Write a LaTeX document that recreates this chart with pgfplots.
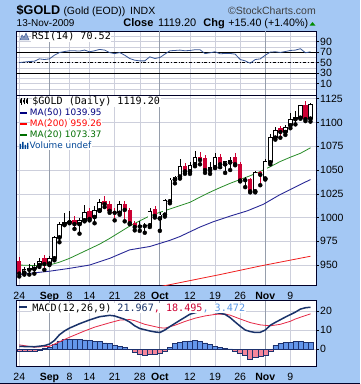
\documentclass[border=0pt]{standalone}
\usepackage{fontspec}
\setmainfont{Liberation Sans}
\newfontfamily\monof{DejaVu Sans Mono}
\newfontfamily\dvs{DejaVu Sans}
\usepackage{pgfplots}
\pgfplotsset{compat=1.18}
\usepackage{pgfplotstable}

\definecolor{bgblue}{RGB}{164,200,244}
\definecolor{frame}{RGB}{0,0,40}
\definecolor{gridc}{RGB}{205,207,220}
\definecolor{gridm}{RGB}{150,158,172}
\definecolor{candred}{RGB}{204,0,51}
\definecolor{ma50}{RGB}{40,40,150}
\definecolor{ma200}{RGB}{240,30,30}
\definecolor{ma20}{RGB}{40,140,40}
\definecolor{rsic}{RGB}{55,85,150}
\definecolor{macdc}{RGB}{25,50,105}
\definecolor{sigc}{RGB}{230,40,70}
\definecolor{histpos}{RGB}{100,150,235}
\definecolor{histneg}{RGB}{245,135,155}
\definecolor{histline}{RGB}{30,50,110}
\definecolor{lblue}{RGB}{90,150,230}
\definecolor{t50}{RGB}{0,0,128}
\definecolor{t200}{RGB}{255,0,0}
\definecolor{t20}{RGB}{0,110,0}
\definecolor{tvol}{RGB}{0,70,150}

% hollow (up) candles: index open high low close
\pgfplotstableread{
i o h l c
1 942 948 940 946
3 946 952 941 949.5
4 950 957 948 954.5
6 951.5 959 950 957
7 957 981 955 979
8 979 995 974 993
9 993 1005 992 995.5
10 995 1007 994 996.5
12 993 1000 983 997
13 997 1013 996 1006
15 1000.5 1012 994 1007.5
16 1007.5 1020 1007 1016
20 1005 1017 1003 1014
26 991.7 1010 990 1006.7
28 999 1006 986 1003
29 1003 1020 1001 1018
30 1017 1042 1015 1040
31 1040 1044 1036 1043
32 1043 1062 1041 1054
34 1048.5 1058 1046 1055
35 1056 1070 1054 1063.5
38 1050 1058 1046 1053
39 1053 1068 1052 1063.5
41 1056 1060 1047 1059
42 1058 1064 1050 1060.5
47 1027.5 1049 1026.5 1048
49 1041 1062 1040 1059.5
50 1058 1088 1056 1085
51 1084 1095 1082 1092
53 1090 1097 1087 1095
54 1097 1110 1094 1104
55 1103.5 1112 1098 1105.5
56 1105 1118.5 1104 1118
58 1104 1120 1101 1119.2
}\upc

% small black (filled) candles
\pgfplotstableread{
i o h l c
2 945 951 940 947
24 990.5 996.5 986 991.7
25 991 994 984 992
45 1039.3 1043 1032 1040.5
}\blkc

% red (down) candles
\pgfplotstableread{
i o h l c
0 954 958 938 941
5 957 961 945 951
11 997 1001.5 988 993
14 1006.5 1010 997 998.5
17 1017.5 1023 1011 1014
18 1014 1017 1005 1007
19 1005.8 1010 997 1005
21 1014 1017 996 1008
22 1008 1010 993 994
23 994 996 986.5 990
27 1009 1012 1000 1001.7
33 1054 1057 1046 1048.5
36 1064 1069 1056 1060.5
37 1063 1066 1047 1050
40 1064 1067 1053 1056
43 1064 1068 1055 1056
44 1056 1058 1038 1039
46 1040.5 1042 1026.5 1027.5
48 1048 1049 1034 1045
52 1094 1096 1084 1090
57 1118 1123 1101.5 1103.5
}\dnc

\pgfplotstableread{
i m
0 950
3 949.5
6 950
8 953
10 957
12 962
14 967
16 972
18 978
20 984.5
22 991
24 996.5
26 1001.7
28 1005.5
30 1009
32 1012.5
34 1016
36 1021.5
38 1026.7
40 1031.5
42 1036
44 1040
46 1044
48 1048.5
50 1053.5
52 1059
54 1063.5
56 1067.6
58 1073.37
}\maxx

\pgfplotstableread{
i m
0 940
6 943.5
10 946.5
14 950
18 957
22 966
26 969.5
30 976
32 980
36 990
38.6 995.5
42 1001.5
45.4 1007
48.6 1013.9
51.9 1024
55.3 1033
58 1039.95
}\mal

\pgfplotstableread{
i m
24 923
32 931.5
40 940
48 949
58 959.26
}\mac

\pgfplotstableread{
i r
0 50
1 51
2 52
3 52.5
4 57
5 55.8
6 57
7 64
8 69
9 71
10 72.4
11 72.4
12 71.8
13 73.7
14 70.5
15 72.4
16 75
17 73.7
18 69
19 67
20 69
21 64
22 57.7
23 54.5
24 53.2
25 53.2
26 61
27 57.7
28 59.6
29 66
30 72.4
31 73
32 73.7
33 72.4
34 73
35 74.4
36 74.4
37 67
38 68.6
39 70.5
40 66.7
41 67.3
42 67.3
43 66
44 55.8
45 53.2
46 48.7
47 55.8
48 57
49 64
50 69.9
51 70.5
52 69.2
53 71
54 73
55 73.7
56 76.3
57 68.6
58 70.52
}\rsi

\pgfplotstableread{
i v
0 1.4
3 1.2
5 1.8
6 2.6
7 4.5
8 7.5
9 9.5
10 11.0
12 13.3
14 15.3
16 17.0
18 17.7
19 17.4
21 15.6
22 14.2
23 12.2
24 10.8
26 9.5
27 9.0
28 8.7
29 10.0
30 11.8
32 15.1
34 18.3
36 19.8
38 19.6
40 18.8
41 18.2
42 16.5
43 14.2
44 12.0
45 10.0
46 9.2
47 8.7
48 8.8
49 10.0
50 12.5
51 14.0
53 16.8
55 19.4
56 21.0
57 21.7
58 21.967
}\macd

\pgfplotstableread{
i v
0 2.2
3 1.0
6 1.4
8 3.8
10 6.2
13 9.5
15 11.5
18 13.8
20 15.2
22 15.5
23 14.9
25 13.0
28 11.2
29 11.0
31 12.5
33 14.5
35 16.2
37 17.4
39 18.2
41 18.4
42 17.8
44 15.8
46 13.9
48 12.7
50 12.2
52 13.0
54 14.6
55 15.8
57 17.6
58 18.495
}\sig

\pgfplotstableread{
i h
5 0.4
6 0.8
7 2.3
8 4.3
9 5.2
10 5.2
11 5.1
12 5.2
13 4.8
14 4.4
15 4.2
16 4.0
17 3.3
18 3.0
19 2.0
20 1.5
21 0.9
30 1.0
31 2.8
32 3.7
33 4.2
34 4.3
35 4.6
36 4.0
37 3.2
38 2.3
39 1.4
40 1.0
41 0.5
42 0.15
51 1.9
52 2.9
53 3.4
54 3.7
55 3.9
56 4.0
57 3.7
58 3.472
}\hpos

\pgfplotstableread{
i h
0 -1.2
1 -1.2
2 -1.2
3 -1.0
4 -0.5
22 -0.3
23 -1.6
24 -2.6
25 -3.0
26 -2.8
27 -2.7
28 -2.1
29 -1.4
43 -0.9
44 -2.2
45 -3.5
46 -5.2
47 -4.3
48 -4.0
49 -3.2
50 -1.0
}\hneg

\pgfplotsset{
  panel/.style={
    scale only axis, width=300pt,
    xmin=-0.65, xmax=59.1,
    axis background/.style={fill=white},
    axis line style={draw=frame, line width=0.8pt},
    grid=major, grid style={draw=gridc, line width=0.5pt},
    xtick={0,10,14,19,24,34,39,44,54},
    extra x ticks={6,28,49},
    extra x tick style={grid=major, grid style={draw=gridm, line width=0.7pt}},
    xtick style={draw=none},
    ytick pos=right, yticklabel pos=right,
    tick align=outside, major tick length=3pt,
    ytick style={draw=black, line width=0.5pt},
    tick label style={font=\fontsize{10.5}{12}\selectfont},
    /pgf/number format/assume math mode=true,
    /pgf/number format/1000 sep={},
    yticklabel style={anchor=west, inner sep=0pt, xshift=1pt},
    xticklabel style={anchor=base, inner sep=0pt, yshift=-11.7pt},
    no markers,
  },
  seg/.style 2 args={only marks, mark=none, forget plot,
    error bars/.cd, y dir=plus, y explicit, error mark=none,
    error bar style={draw=#1, line width=#2, line cap=butt}},
}

\begin{document}
\begin{tikzpicture}
\fill[bgblue] (0pt,0pt) rectangle (360pt,384pt);

% ---------- RSI panel ----------
\begin{axis}[panel, anchor=south west, at={(16pt,288.3pt)}, height=64.7pt,
  ymin=-13, ymax=110, ytick={10,30,50,70,90},
  minor ytick={0,20,40,60,80,100}, yminorgrids,
  minor grid style={draw=gridc, line width=0.5pt}, minor tick length=0pt,
  xticklabels={}, extra x tick labels={}]
\addplot[black, line width=0.7pt] coordinates {(-1,70) (60,70)};
\addplot[black, line width=0.7pt] coordinates {(-1,30) (60,30)};
\addplot[black, line width=0.6pt, dash dot] coordinates {(-1,50) (60,50)};
\addplot[rsic, line width=0.8pt] table[x=i, y=r] {\rsi};
\end{axis}

% ---------- Price panel ----------
\begin{axis}[panel, anchor=south west, at={(16pt,99pt)}, height=189.3pt,
  ymin=929, ymax=1128.2,
  ytick={950,975,1000,1025,1050,1075,1100,1125},
  minor y tick num=4, minor tick length=1.5pt,
  xticklabels={24,8,14,21,28,12,19,26,9},
  extra x tick labels={\textbf{Sep},\textbf{Oct},\textbf{Nov}}]
\addplot[ma200, line width=0.8pt] table[x=i, y=m] {\mac};
\addplot[ma50, line width=0.9pt] table[x=i, y=m] {\mal};
\addplot[ma20, line width=0.8pt] table[x=i, y=m] {\maxx};
% wicks
\addplot[seg={black}{0.6pt}] table[x=i, y=l, y error expr=\thisrow{h}-\thisrow{l}] {\upc};
\addplot[seg={black}{0.6pt}] table[x=i, y=l, y error expr=\thisrow{h}-\thisrow{l}] {\blkc};
\addplot[seg={candred}{0.6pt}] table[x=i, y=l, y error expr=\thisrow{h}-\thisrow{l}] {\dnc};
% bodies
\addplot[seg={black}{4.4pt}] table[x=i, y=o, y error expr=\thisrow{c}-\thisrow{o}] {\upc};
\addplot[only marks, mark=none, forget plot, error bars/.cd, y dir=plus, y explicit, error mark=none,
  error bar style={draw=white, line width=2.8pt, line cap=butt, shorten <=0.8pt, shorten >=0.8pt}]
  table[x=i, y=o, y error expr=\thisrow{c}-\thisrow{o}] {\upc};
\addplot[seg={black}{4.4pt}] table[x=i, y=o, y error expr=\thisrow{c}-\thisrow{o}] {\blkc};
\addplot[seg={candred}{4.4pt}] table[x=i, y=c, y error expr=\thisrow{o}-\thisrow{c}] {\dnc};
\end{axis}

% ---------- MACD panel ----------
\begin{axis}[panel, anchor=south west, at={(16pt,18pt)}, height=65.3pt,
  ymin=-8.9, ymax=25.4, ytick={0,10,20},
  xticklabels={24,8,14,21,28,12,19,26,9},
  extra x tick labels={\textbf{Sep},\textbf{Oct},\textbf{Nov}}]
\addplot[ybar, bar width=1, bar shift=0pt, fill=histpos, draw=histline, line width=0.5pt] table[x=i, y=h] {\hpos};
\addplot[ybar, bar width=1, bar shift=0pt, fill=histneg, draw=histline, line width=0.5pt] table[x=i, y=h] {\hneg};
\addplot[sigc, line width=0.8pt] table[x=i, y=v] {\sig};
\addplot[macdc, line width=1.5pt] table[x=i, y=v] {\macd};
\end{axis}

\begin{scope}[x=1pt,y=1pt]
% ---------- header ----------
\node[anchor=base west, inner sep=0] at (16.5,369) {\fontsize{12.6}{14}\selectfont\bfseries \$GOLD};
\node[anchor=base west, inner sep=0] at (63.3,369) {\fontsize{10.5}{12}\selectfont (Gold (EOD))};
\node[anchor=base west, inner sep=0] at (130,369) {\fontsize{10.5}{12}\selectfont INDX};
\node[anchor=base east, inner sep=0, text=black!75] at (316,369.5) {\fontsize{10.5}{12}\selectfont ©StockCharts.com};
\node[anchor=base west, inner sep=0] at (16.5,357.3) {\fontsize{10}{12}\selectfont 13-Nov-2009};
\node[anchor=base west, inner sep=0] at (123.3,357.3) {\fontsize{11}{12}\selectfont\bfseries Close};
\node[anchor=base west, inner sep=0] at (158,357.3) {\fontsize{11}{12}\selectfont 1119.20};
\node[anchor=base west, inner sep=0] at (203.3,357.3) {\fontsize{11}{12}\selectfont\bfseries Chg};
\node[anchor=base west, inner sep=0] at (228.3,357.3) {\fontsize{10.7}{12}\selectfont +15.40 (+1.40\%)};
\fill[green!55!black] (309.5,358.3) -- (315.5,358.3) -- (312.5,362) -- cycle;

% ---------- RSI legend ----------
\fill[rsic!60, draw=rsic, line width=0.4pt] (20,344) -- (22,349) -- (24,346.5) -- (26,351) -- (29,344) -- cycle;
\node[anchor=base west, inner sep=0.6pt, fill=white] at (31,344) {\monof\fontsize{10.1}{12}\selectfont RSI(14) 70.52};

% ---------- price legend ----------
\node[anchor=base west, inner sep=0.6pt, fill=white] at (31.5,279.5) {\monof\fontsize{10.1}{12}\selectfont \$GOLD (Daily) 1119.20};
\draw[black, line width=0.5pt] (21,279) -- (21,286) (24,279.5) -- (24,285.5) (27,280) -- (27,286);
\fill[black] (20.2,281) rectangle (21.8,284.5) (23.2,281.5) rectangle (24.8,284) (26.2,281) rectangle (27.8,284.5);
\fill[t50] (20,270.3) rectangle (27,272.3);
\node[anchor=base west, inner sep=0.5pt, fill=white] at (29.3,268) {\dvs\fontsize{8.9}{10}\selectfont\textcolor{t50}{MA(50) 1039.95}};
\fill[t200] (20,259.3) rectangle (27,261.3);
\node[anchor=base west, inner sep=0.5pt, fill=white] at (29.3,257) {\dvs\fontsize{8.9}{10}\selectfont\textcolor{t200}{MA(200) 959.26}};
\fill[t20] (20,248.3) rectangle (27,250.3);
\node[anchor=base west, inner sep=0.5pt, fill=white] at (29.3,246) {\dvs\fontsize{8.9}{10}\selectfont\textcolor{t20}{MA(20) 1073.37}};
\fill[tvol] (19.5,235) rectangle (21,240) (22,235) rectangle (23.5,242) (24.5,235) rectangle (26,239) (27,235) rectangle (28.3,241);
\node[anchor=base west, inner sep=0.5pt, fill=white] at (29,235) {\dvs\fontsize{8.9}{10}\selectfont\textcolor{tvol}{Volume undef}};

% ---------- MACD legend ----------
\fill[macdc] (19,76) rectangle (27,78);
\node[anchor=base west, inner sep=0.6pt, fill=white] at (31.5,73) {\monof\fontsize{10.1}{12}\selectfont MACD(12,26,9) \textcolor{macdc}{21.967}\textcolor{candred}{, 18.495}\textcolor{lblue}{, 3.472}};

\fill[frame] (0,0) rectangle (360,1.2);
\end{scope}
\end{tikzpicture}
\end{document}
